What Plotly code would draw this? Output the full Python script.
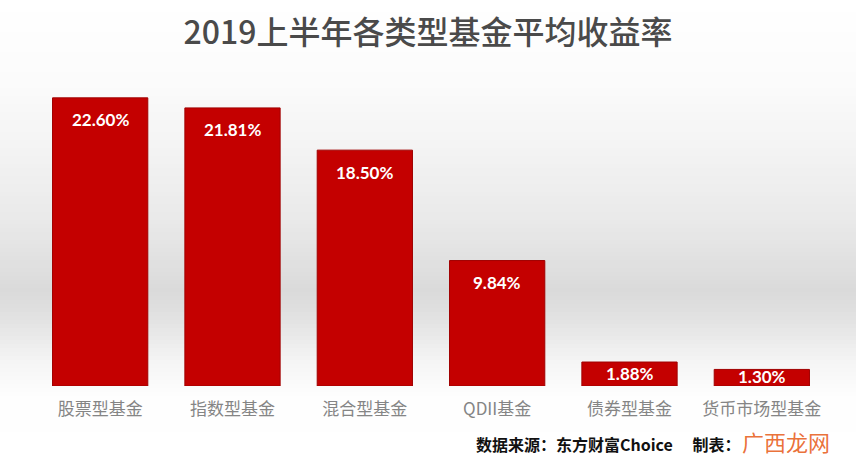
import plotly.graph_objects as go

categories = ["股票型基金", "指数型基金", "混合型基金", "QDII基金", "债券型基金", "货币市场型基金"]
values = [22.60, 21.81, 18.50, 9.84, 1.88, 1.30]
labels = [f"{v:.2f}%" for v in values]
title_text = "2019上半年各类型基金平均收益率"
source_text = "数据来源：东方财富Choice　 制表："
watermark_text = "广西龙网"

W, H = 856, 466
ML, MR, MT, MB = 34, 28, 80, 80
plot_h = H - MT - MB

def py(y):
    return (H - MB - y) / plot_h

# background gradient stops (pixel y, gray level)
stops = [(0, 255), (80, 251), (150, 243), (220, 233), (290, 218), (320, 227), (360, 245), (395, 254), (466, 255)]
shapes = []
step = 4
for y in range(0, H, step):
    for i in range(len(stops) - 1):
        if stops[i][0] <= y < stops[i + 1][0]:
            t = (y - stops[i][0]) / (stops[i + 1][0] - stops[i][0])
            g = round(stops[i][1] + t * (stops[i + 1][1] - stops[i][1]))
            break
    shapes.append(dict(type="rect", xref="paper", yref="paper", x0=-0.1, x1=1.1,
                       y0=py(y + step), y1=py(y), fillcolor=f"rgb({g},{g},{g})",
                       line=dict(width=0), layer="below"))

fig = go.Figure(go.Bar(
    x=categories, y=values,
    marker=dict(color="#C40000", line=dict(color="#A00000", width=1)),
    cliponaxis=False, hoverinfo="x+y",
))

label_font = dict(family="Lato, Open Sans, sans-serif", size=17, color="white", weight="bold")
annotations = []
for c, v, t in zip(categories, values, labels):
    if v > 5:
        annotations.append(dict(x=c, y=v, xref="x", yref="y", text=t, showarrow=False,
                                yanchor="middle", yshift=-22, font=label_font))
    else:
        annotations.append(dict(x=c, y=v / 2, xref="x", yref="y", text=t, showarrow=False,
                                yanchor="middle", yshift=1, font=label_font))

annotations += [
    dict(text=source_text, xref="paper", yref="paper", x=(474 - ML) / (W - ML - MR), y=py(444),
         xanchor="left", yanchor="middle", showarrow=False,
         font=dict(family="Noto Sans CJK SC", size=16, color="#111111", weight="bold")),
    dict(text=watermark_text, xref="paper", yref="paper", x=(786 - ML) / (W - ML - MR), y=py(441),
         xanchor="center", yanchor="middle", showarrow=False,
         font=dict(family="Noto Sans CJK SC", size=22, color="rgba(232,96,30,0.9)")),
]

fig.update_layout(
    width=W, height=H,
    margin=dict(l=ML, r=MR, t=MT, b=MB),
    paper_bgcolor="white", plot_bgcolor="rgba(0,0,0,0)",
    bargap=0.28, showlegend=False,
    shapes=shapes,
    title=dict(text=title_text, x=0.5, xanchor="center", y=1 - 33 / H, yanchor="middle",
               font=dict(family="Noto Sans CJK SC", size=32, color="#4a4a4a", weight=500)),
    xaxis=dict(showgrid=False, showline=False, zeroline=False, ticks="outside", ticklen=8,
               tickcolor="rgba(0,0,0,0)",
               tickfont=dict(family="Noto Sans CJK SC", size=17, color="#858585")),
    yaxis=dict(range=[0, 24], visible=False, showgrid=False, zeroline=False),
    annotations=annotations,
)

fig.write_html("out.html")
